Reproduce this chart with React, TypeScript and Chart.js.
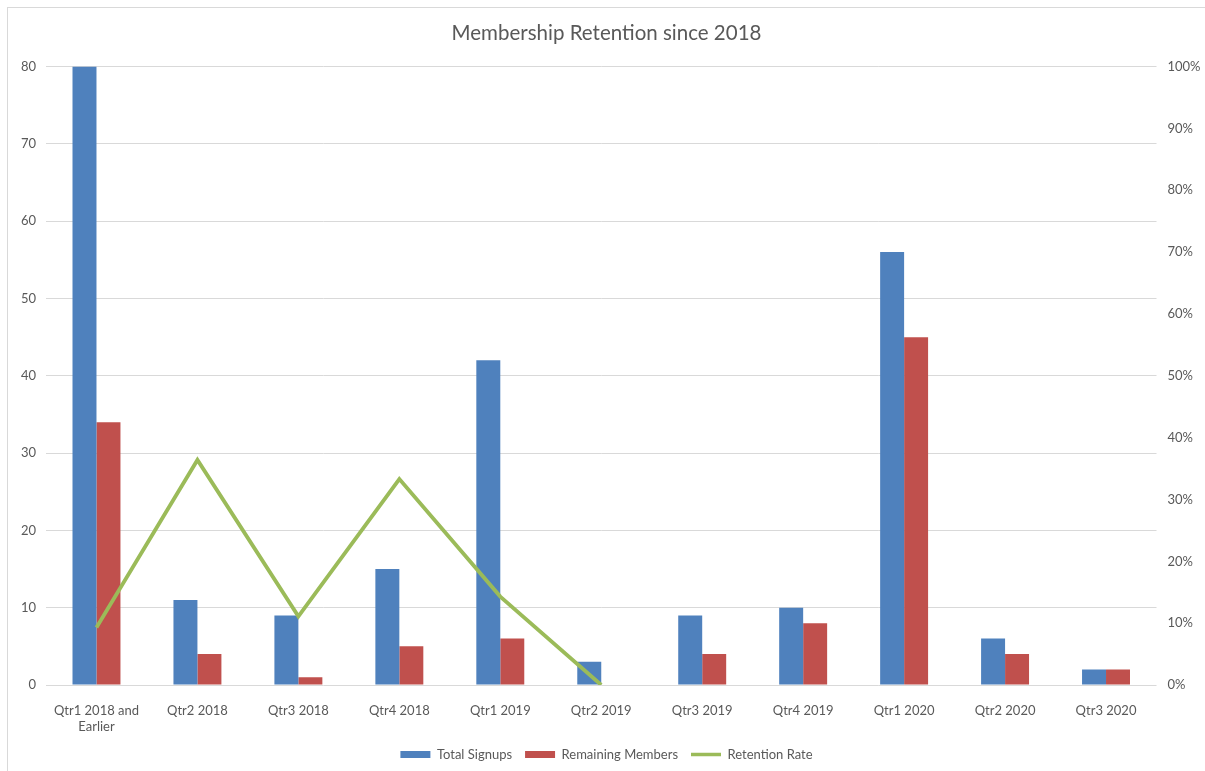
import React, { useEffect, useRef } from "react";
import { Chart, registerables } from "chart.js";

Chart.register(...registerables);

const categories: (string | string[])[] = [
  ["Qtr1 2018 and", "Earlier"],
  "Qtr2 2018",
  "Qtr3 2018",
  "Qtr4 2018",
  "Qtr1 2019",
  "Qtr2 2019",
  "Qtr3 2019",
  "Qtr4 2019",
  "Qtr1 2020",
  "Qtr2 2020",
  "Qtr3 2020",
];
const totalSignups = [80, 11, 9, 15, 42, 3, 9, 10, 56, 6, 2];
const remainingMembers = [34, 4, 1, 5, 6, 0, 4, 8, 45, 4, 2];
const retentionRate: (number | null)[] = [9.3, 36.4, 11.1, 33.3, 14.3, 0, null, null, null, null, null];

const TEXT = "#595959";
const FONT = "Lato, 'Liberation Sans', sans-serif";

export default function App() {
  const ref = useRef<HTMLCanvasElement | null>(null);
  useEffect(() => {
    if (!ref.current) return;
    const chart = new Chart(ref.current, {
      type: "bar",
      data: {
        labels: categories,
        datasets: [
          {
            type: "bar",
            label: "Total Signups",
            data: totalSignups,
            backgroundColor: "#4F81BD",
            yAxisID: "y",
            order: 1,
            categoryPercentage: 0.475,
            barPercentage: 1,
          },
          {
            type: "bar",
            label: "Remaining Members",
            data: remainingMembers,
            backgroundColor: "#C0504D",
            yAxisID: "y",
            order: 1,
            categoryPercentage: 0.475,
            barPercentage: 1,
          },
          {
            type: "line",
            label: "Retention Rate",
            data: retentionRate,
            borderColor: "#9BBB59",
            backgroundColor: "#9BBB59",
            borderWidth: 3.8,
            pointRadius: 0,
            tension: 0,
            spanGaps: false,
            yAxisID: "y1",
            order: 0,
          } as any,
        ],
      },
      options: {
        animation: false,
        responsive: false,
        maintainAspectRatio: false,
        layout: { padding: { top: 0, bottom: 0, left: 0, right: 0 } },
        plugins: {
          tooltip: { enabled: false },
          title: {
            display: true,
            text: "Membership Retention since 2018",
            color: TEXT,
            font: { family: FONT, size: 20.5, weight: "normal" },
            padding: { top: 13, bottom: 21 },
          },
          legend: {
            display: true,
            position: "bottom",
            labels: {
              color: TEXT,
              font: { family: FONT, size: 13 },
              boxWidth: 30,
              boxHeight: 7,
              usePointStyle: true,
              pointStyleWidth: 30,
              padding: 13,
              generateLabels: (c: any) => {
                const items = Chart.defaults.plugins.legend.labels.generateLabels(c);
                items.sort((a: any, b: any) => a.datasetIndex - b.datasetIndex);
                return items.map((it: any) => {
                  const ds = c.data.datasets[it.datasetIndex];
                  if (ds.type === "line") {
                    return { ...it, pointStyle: "line", strokeStyle: "#9BBB59", fillStyle: "#9BBB59", lineWidth: 3.5 };
                  }
                  return { ...it, pointStyle: "rect", lineWidth: 0, strokeStyle: ds.backgroundColor, fillStyle: ds.backgroundColor };
                });
              },
            },
          },
        },
        scales: {
          x: {
            grid: { display: false },
            border: { display: false },
            ticks: {
              color: TEXT,
              font: { family: FONT, size: 13 },
              padding: 10,
              maxRotation: 0,
              autoSkip: false,
            },
            afterFit: (s: any) => {
              s.height = 50;
            },
          },
          y: {
            position: "left",
            min: 0,
            max: 80,
            ticks: {
              stepSize: 10,
              color: TEXT,
              font: { family: FONT, size: 13 },
              padding: 10,
            },
            grid: { color: "#d9d9d9", lineWidth: 1, drawTicks: false },
            border: { display: false },
            afterFit: (s: any) => {
              s.width = 38;
            },
          },
          y1: {
            position: "right",
            min: 0,
            max: 100,
            ticks: {
              stepSize: 10,
              color: TEXT,
              font: { family: FONT, size: 13 },
              padding: 11,
              callback: (v: any) => v + "%",
            },
            grid: { display: false, drawTicks: false },
            border: { display: false },
            afterFit: (s: any) => {
              s.width = 48.5;
            },
          },
        },
      } as any,
    });
    return () => chart.destroy();
  }, []);

  return (
    <div
      style={{
        position: "absolute",
        left: 7,
        top: 7,
        width: 1198,
        height: 764,
        borderLeft: "1px solid #d9d9d9",
        borderTop: "1px solid #d9d9d9",
        background: "#fff",
        overflow: "hidden",
      }}
    >
      <canvas ref={ref} width={1197} height={763} style={{ display: "block", width: 1197, height: 763 }} />
    </div>
  );
}
